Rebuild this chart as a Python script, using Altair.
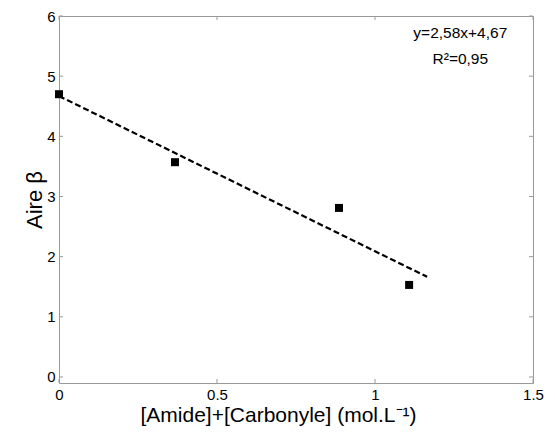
import altair as alt
import pandas as pd

# data
x_vals = [0.0, 0.367, 0.886, 1.108]
y_vals = [4.70, 3.57, 2.81, 1.53]
fit_slope = -2.58
fit_intercept = 4.67
fit_x = [0.0, 1.165]
x_ticks = [0, 0.5, 1, 1.5]
y_ticks = [0, 1, 2, 3, 4, 5, 6]
eq_lines = ["y=2,58x+4,67", "R²=0,95"]
eq_y = [5.72, 5.29]
eq_x = [1.27, 1.27]

W, H = 474, 367
FONT = "Liberation Sans"
GREY = "#999999"

pts = pd.DataFrame({"x": x_vals, "y": y_vals})
fit = pd.DataFrame({"x": fit_x, "y": [fit_intercept + fit_slope * v for v in fit_x]})
xt = pd.DataFrame({"v": x_ticks})
yt = pd.DataFrame({"v": y_ticks})
eq = pd.DataFrame({"t": eq_lines, "x": eq_x, "y": eq_y})

xs = alt.Scale(domain=[0, 1.5], nice=False, zero=False)
ys = alt.Scale(domain=[-0.1, 6], nice=False, zero=False)

xaxis = alt.Axis(values=x_ticks, format="~g", domain=False, ticks=False, grid=False,
                 labelFontSize=15, labelFont=FONT, labelColor="black", labelPadding=4,
                 title="[Amide]+[Carbonyle] (mol.L⁻¹)", titleFont=FONT, titleFontSize=21,
                 titleFontWeight="normal", titleColor="black", titlePadding=2,
                 titleX=219, titleAlign="center",
                 labelFlush=False)
yaxis = alt.Axis(values=y_ticks, format="~g", domain=False, ticks=False, grid=False,
                 labelFontSize=15, labelFont=FONT, labelColor="black", labelPadding=4,
                 title="Aire β", titleFont=FONT, titleFontSize=22,
                 titleFontWeight="normal", titleColor="black", titlePadding=0,
                 labelFlush=False)

line = alt.Chart(fit).mark_line(color="black", strokeWidth=2.2, strokeDash=[6, 3]).encode(
    x=alt.X("x:Q", scale=xs, axis=xaxis),
    y=alt.Y("y:Q", scale=ys, axis=yaxis),
)
points = alt.Chart(pts).mark_square(color="black", size=64, opacity=1).encode(
    x=alt.X("x:Q", scale=xs),
    y=alt.Y("y:Q", scale=ys),
)

ytl = alt.Chart(yt).mark_rule(color=GREY).encode(
    y=alt.Y("v:Q", scale=ys), x=alt.value(0), x2=alt.value(4))
ytr = alt.Chart(yt).mark_rule(color=GREY).encode(
    y=alt.Y("v:Q", scale=ys), x=alt.value(W - 4), x2=alt.value(W))
xtb = alt.Chart(xt).mark_rule(color=GREY).encode(
    x=alt.X("v:Q", scale=xs), y=alt.value(H), y2=alt.value(H - 4))
xtt = alt.Chart(xt).mark_rule(color=GREY).encode(
    x=alt.X("v:Q", scale=xs), y=alt.value(0), y2=alt.value(4))

text = alt.Chart(eq).mark_text(font=FONT, fontSize=15.5, color="black", align="center",
                               baseline="middle").encode(
    x=alt.X("x:Q", scale=xs), y=alt.Y("y:Q", scale=ys), text="t:N")

chart = alt.layer(ytl, ytr, xtb, xtt, line, points, text).properties(
    width=W, height=H,
    autosize=alt.AutoSizeParams(type="none"),
    padding={"left": 51, "top": 8, "right": 14, "bottom": 50},
).configure_view(stroke=GREY, strokeWidth=1)

chart.save("out.html", embed_options={"renderer": "svg", "actions": False})
